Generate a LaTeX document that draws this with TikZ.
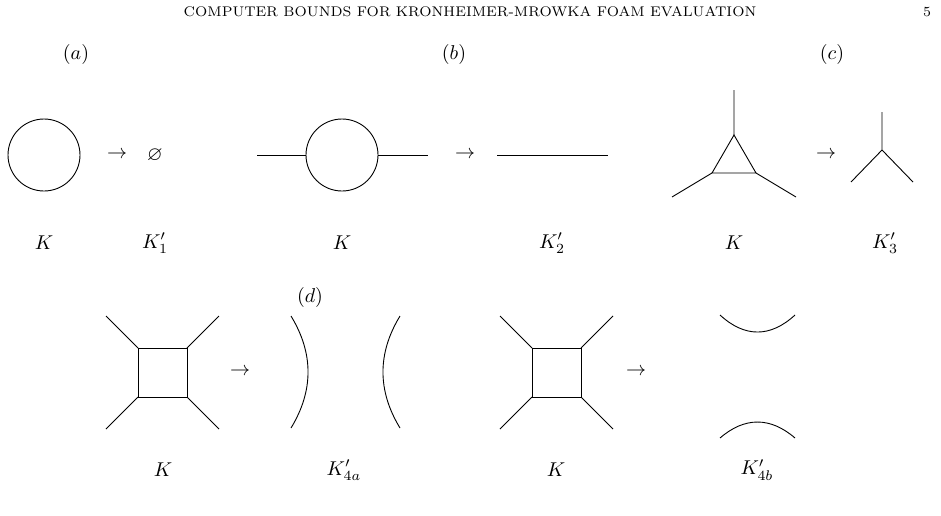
\documentclass[tikz,border=0pt]{standalone}
\usepackage{amssymb}
\begin{document}
\begin{tikzpicture}[x=0.5pt,y=-0.5pt,
 lbl/.style={inner sep=0pt},
 e/.style={line width=0.45pt}]
\useasboundingbox (0,0) rectangle (941,515);
\node[lbl,font=\scriptsize] (hd) at (470,12) {COMPUTER BOUNDS FOR KRONHEIMER-MROWKA FOAM EVALUATION};
\node[lbl,font=\scriptsize] (pg) at (927,12) {5};
\node[lbl] (la) at (76,54) {$(a)$};
\node[lbl] (lb) at (454,54) {$(b)$};
\node[lbl] (lc) at (832,54) {$(c)$};
\node[lbl] (ld) at (310,297) {$(d)$};
% (a)
\node[circle,draw,e,minimum size=36pt,inner sep=0pt] (ca) at (44,155) {};
\node[lbl] (ar1) at (117,155) {$\to$};
\node[lbl] (em) at (155,155) {$\varnothing$};
\node[lbl] (k1) at (44,243) {$K$};
\node[lbl] (k1p) at (155,243) {$K_1'$};
% (b)
\node[circle,draw,e,minimum size=36pt,inner sep=0pt] (cb) at (342,155) {};
\coordinate (bl) at (257,155); \coordinate (br) at (428,155);
\draw[e] (bl) -- (cb.west); \draw[e] (cb.east) -- (br);
\node[lbl] (ar2) at (465,155) {$\to$};
\coordinate (s1) at (497,155); \coordinate (s2) at (608,155);
\draw[e] (s1) -- (s2);
\node[lbl] (k2) at (342,243) {$K$};
\node[lbl] (k2p) at (552,243) {$K_2'$};
% (c)
\coordinate (tt) at (734,135); \coordinate (tl) at (712,173); \coordinate (tr) at (756,173);
\coordinate (et) at (734,90); \coordinate (el) at (672,197); \coordinate (er) at (796,197);
\draw[e] (tt)--(tl)--(tr)--cycle;
\draw[e] (tt)--(et) (tl)--(el) (tr)--(er);
\node[lbl] (ar3) at (826,155) {$\to$};
\coordinate (yc) at (882,150); \coordinate (yt) at (882,112); \coordinate (yl) at (851,182); \coordinate (yr) at (913,182);
\draw[e] (yc)--(yt) (yc)--(yl) (yc)--(yr);
\node[lbl] (k3) at (734,243) {$K$};
\node[lbl] (k3p) at (885,243) {$K_3'$};
% (d) first
\coordinate (a1) at (138,348); \coordinate (a2) at (187,348); \coordinate (a3) at (187,397); \coordinate (a4) at (138,397);
\draw[e] (a1)--(a2)--(a3)--(a4)--cycle;
\coordinate (o1) at (106,316); \coordinate (o2) at (219,316); \coordinate (o3) at (219,429); \coordinate (o4) at (106,429);
\draw[e] (a1)--(o1) (a2)--(o2) (a3)--(o3) (a4)--(o4);
\node[lbl] (ar4) at (240,372) {$\to$};
\coordinate (p1) at (291,316); \coordinate (p2) at (291,428);
\coordinate (q1) at (400,316); \coordinate (q2) at (400,428);
\draw[e] (p1) .. controls (313.7,353.3) and (313.7,390.7) .. (p2);
\draw[e] (q1) .. controls (377.3,353.3) and (377.3,390.7) .. (q2);
\node[lbl] (k4) at (163,470) {$K$};
\node[lbl] (k4a) at (344,470) {$K_{4a}'$};
% (d) second
\coordinate (b1) at (532,348); \coordinate (b2) at (581,348); \coordinate (b3) at (581,397); \coordinate (b4) at (532,397);
\draw[e] (b1)--(b2)--(b3)--(b4)--cycle;
\coordinate (r1) at (500,316); \coordinate (r2) at (613,316); \coordinate (r3) at (613,429); \coordinate (r4) at (500,429);
\draw[e] (b1)--(r1) (b2)--(r2) (b3)--(r3) (b4)--(r4);
\node[lbl] (ar5) at (636,372) {$\to$};
\coordinate (u1) at (720,315); \coordinate (u2) at (795,315);
\coordinate (v1) at (720,438); \coordinate (v2) at (795,438);
\draw[e] (u1) .. controls (744.7,337.7) and (770.3,337.7) .. (u2);
\draw[e] (v1) .. controls (744.7,416.7) and (770.3,416.7) .. (v2);
\node[lbl] (k5) at (556,470) {$K$};
\node[lbl] (k4b) at (757,470) {$K_{4b}'$};
\end{tikzpicture}
\end{document}
